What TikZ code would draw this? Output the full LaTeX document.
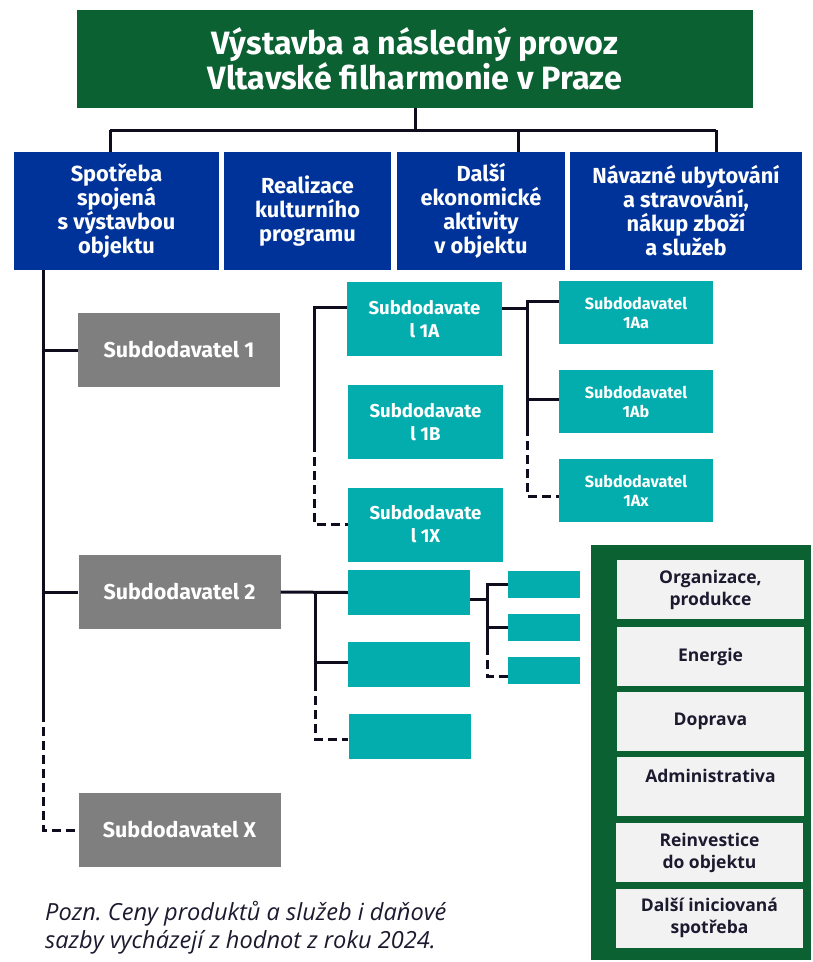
\documentclass[tikz,border=0pt]{standalone}
\usepackage{fontspec}
\setmainfont{Fira Sans}
\newfontfamily\segoe{Open Sans}
\definecolor{titlegreen}{HTML}{0B6132}
\definecolor{mainblue}{HTML}{003399}
\definecolor{subteal}{HTML}{03ADAE}
\definecolor{subgrey}{HTML}{7F7F7F}
\definecolor{lightgrey}{HTML}{F2F2F2}
\definecolor{lineblack}{HTML}{0F0C1D}
\definecolor{darktext}{HTML}{1C1A2E}
\tikzset{
  line/.style={line width=3pt,color=lineblack},
  dashline/.style={line,dash pattern=on 9pt off 5pt},
  box/.style={inner sep=0pt,align=center,text=white},
  titlebox/.style={box,fill=titlegreen,minimum width=676pt,minimum height=98pt,
    font=\bfseries\fontsize{32.3}{35}\selectfont},
  bluebox/.style={box,fill=mainblue,minimum height=118pt,
    font=\bfseries\fontsize{21.8}{24}\selectfont},
  greybox/.style={box,fill=subgrey,minimum width=202pt,minimum height=74pt,
    font=\bfseries\fontsize{21.5}{22}\selectfont},
  tealbox/.style={box,fill=subteal,minimum width=155pt,minimum height=74pt,
    font=\bfseries\fontsize{18.6}{23}\selectfont},
  smallteal/.style={box,fill=subteal,minimum width=154pt,minimum height=63pt,
    font=\bfseries\fontsize{16.2}{19}\selectfont},
  emptyteal/.style={box,fill=subteal,minimum width=122pt,minimum height=45pt},
  tinyteal/.style={box,fill=subteal,minimum width=72pt,minimum height=27pt},
  lightbox/.style={fill=lightgrey,minimum width=187pt,minimum height=59pt,inner sep=0pt,
    align=center,text=darktext,font=\segoe\bfseries\fontsize{17.5}{22}\selectfont}
}
\begin{document}
\begin{tikzpicture}[x=1pt,y=-1pt]
\useasboundingbox (0,0) rectangle (812,962);

% top level
\node[titlebox] (title) at (415,59) {Výstavba a následný provoz\\Vltavské filharmonie v Praze};
\node[bluebox,minimum width=205pt] (b1) at (116.5,211) {Spotřeba\\spojená\\s výstavbou\\objektu};
\node[bluebox,minimum width=167pt] (b2) at (307.5,211) {Realizace\\kulturního\\programu};
\node[bluebox,minimum width=168pt] (b3) at (481,211) {Další\\ekonomické\\aktivity\\v objektu};
\node[bluebox,minimum width=232pt] (b4) at (686,211) {Návazné ubytování\\a stravování,\\nákup zboží\\a služeb};

\coordinate (d1) at (110,130);
\coordinate (d3) at (518,130);
\coordinate (d4) at (716,130);
\draw[line] (title.south) -- (title.south |- d1);
\draw[line] (d1) -- (d4);
\draw[line] (d1) -- (d1 |- b1.north);
\draw[line] (d3) -- (d3 |- b3.north);
\draw[line] (d4) -- (d4 |- b4.north);

% subcontractors
\node[greybox] (sub1) at (179,350) {Subdodavatel 1};
\node[greybox] (sub2) at (179.5,592) {Subdodavatel 2};
\node[greybox] (subX) at (179.5,830) {Subdodavatel X};

\coordinate (tr) at (43,713);
\draw[line] (b1.south -| tr) -- (tr);
\draw[dashline] (tr) |- (subX.west);
\draw[line] (sub1.west -| tr) -- (sub1.west);
\draw[line] (sub2.west -| tr) -- (sub2.west);

% group 1A
\node[tealbox] (t1A) at (424.5,319) {Subdodavate\\l 1A};
\node[tealbox] (t1B) at (425.5,422) {Subdodavate\\l 1B};
\node[tealbox] (t1X) at (425.5,524.5) {Subdodavate\\l 1X};

\coordinate (va) at (314,307);
\coordinate (vb) at (314,443);
\draw[line] (t1A.west |- va) -- (va) -- (vb);
\draw[dashline] (vb) |- (t1X.west);

\node[smallteal] (aa) at (636,312.5) {Subdodavatel\\1Aa};
\node[smallteal] (ab) at (636,401.5) {Subdodavatel\\1Ab};
\node[smallteal] (ax) at (636,490.5) {Subdodavatel\\1Ax};

\coordinate (ha) at (527,308);
\coordinate (hb) at (527,427);
\draw[line] (t1A.east |- ha) -- (ha);
\draw[line] (aa.west |- 0,301) -| (hb);
\draw[line] (ab.west |- 0,399) -- (527,399);
\draw[dashline] (hb) |- (ax.west |- 0,496);

% group 2
\node[emptyteal] (s2a) at (409,592.5) {};
\node[emptyteal] (s2b) at (409,664.5) {};
\node[emptyteal] (s2c) at (409.5,736.5) {};

\coordinate (vc) at (315,592);
\coordinate (vd) at (315,682);
\draw[line] (sub2.east) -- (s2a.west);
\draw[line] (vc) -- (vd);
\draw[line] (s2b.west |- 0,662) -- (315,662);
\draw[dashline] (vd) |- (s2c.west |- 0,739);

\node[tinyteal] (m1) at (544,584.5) {};
\node[tinyteal] (m2) at (544,627.5) {};
\node[tinyteal] (m3) at (544,670.5) {};

\coordinate (he) at (487,599);
\coordinate (hf) at (487,646);
\draw[line] (s2a.east |- he) -- (he);
\draw[line] (m1.west |- 0,584) -| (hf);
\draw[line] (m2.west |- 0,627) -- (487,627);
\draw[dashline] (hf) |- (m3.west |- 0,676);

% cost panel
\fill[titlegreen] (591,545) rectangle (811,960);
\node[lightbox] (c1) at (710.5,589.5) {Organizace,\\produkce};
\node[lightbox] (c2) at (710.5,656.5) {Energie};
\node[lightbox] (c3) at (710.5,721.5) {Doprava};
\node[lightbox] (c4) at (710.5,786.5) {Administrativa\\~};
\node[lightbox] (c5) at (709.5,852.5) {Reinvestice\\do objektu};
\node[lightbox] (c6) at (709.5,918) {Další iniciovaná\\spotřeba};

% note
\node[anchor=west,align=left,inner sep=0pt,text=darktext,
  font=\segoe\itshape\fontsize{23.6}{28}\selectfont] (note) at (45,928)
  {Pozn.\ Ceny produktů a služeb i daňové\\sazby vycházejí z hodnot z roku 2024.};

\end{tikzpicture}
\end{document}
